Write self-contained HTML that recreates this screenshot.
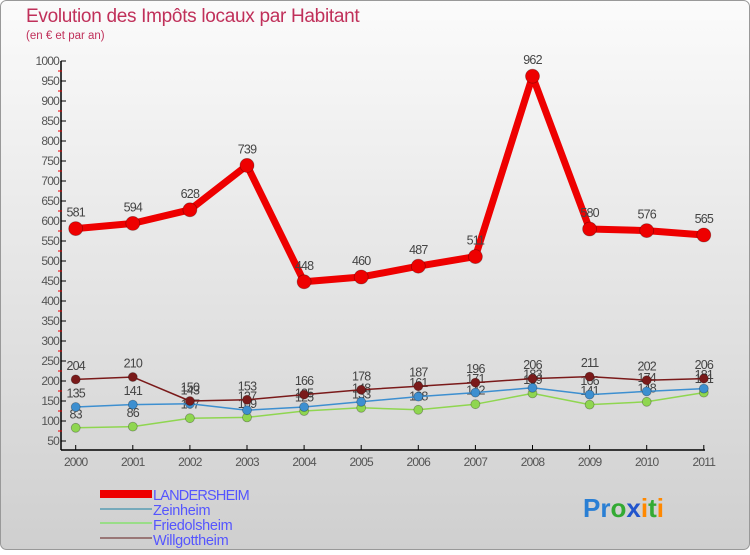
<!DOCTYPE html>
<html><head><meta charset="utf-8"><style>
html,body{margin:0;padding:0}
body{width:750px;height:550px;overflow:hidden;font-family:"Liberation Sans",sans-serif}
svg{font-family:"Liberation Sans",sans-serif}
</style></head><body>
<svg width="750" height="550" xmlns="http://www.w3.org/2000/svg">
<defs><linearGradient id="bg" x1="0" y1="0" x2="0" y2="1"><stop offset="0" stop-color="#fbfbfb"/><stop offset="1" stop-color="#cfcfcf"/></linearGradient></defs>
<rect x="0.5" y="0.5" width="749" height="549" rx="6" fill="url(#bg)" stroke="#999"/>
<text x="26" y="22" font-size="19" fill="#c0305a" letter-spacing="-0.3">Evolution des Impôts locaux par Habitant</text>
<text x="26" y="39" font-size="11.5" fill="#c0305a">(en € et par an)</text>
<g id="axes"></g><g id="series"></g>
<g>
<rect x="100" y="490" width="52" height="8" fill="#e00"/>
<text x="153" y="500" font-size="14.5" fill="#55f" letter-spacing="-0.8">LANDERSHEIM</text>
<rect x="100" y="508" width="52" height="2" fill="#7ab"/>
<text x="153" y="515" font-size="14.5" fill="#55f" letter-spacing="-0.3">Zeinheim</text>
<rect x="100" y="522" width="52" height="2" fill="#9d8"/>
<text x="153" y="530" font-size="14.5" fill="#55f" letter-spacing="-0.3">Friedolsheim</text>
<rect x="100" y="537" width="52" height="2" fill="#977"/>
<text x="153" y="545" font-size="14.5" fill="#55f" letter-spacing="-0.3">Willgottheim</text>
</g>
<g font-size="26" font-weight="bold">
<text x="583" y="517"><tspan fill="#2a7fd4">Pr</tspan><tspan fill="#3a3">o</tspan><tspan fill="#2255cc">x</tspan><tspan fill="#f80">i</tspan><tspan fill="#3a3">t</tspan><tspan fill="#f80">i</tspan></text>
</g>
</svg>
<script>
const years=[2000,2001,2002,2003,2004,2005,2006,2007,2008,2009,2010,2011];
const landersheim=[581,594,628,739,448,460,487,511,962,580,576,565];
const zeinheim=[135,141,143,127,135,148,161,171,183,166,174,181];
const friedolsheim=[83,86,107,109,125,133,128,142,169,141,148,171];
const willgottheim=[204,210,150,153,166,178,187,196,206,211,202,206];
const yTicks=[50,100,150,200,250,300,350,400,450,500,550,600,650,700,750,800,850,900,950,1000];
const NS='http://www.w3.org/2000/svg';
const xs=i=>75.7+i*57.1;
const ys=v=>61+(1000-v)*0.4;
function mk(t,a,p){const e=document.createElementNS(NS,t);for(const k in a)e.setAttribute(k,a[k]);p.appendChild(e);return e;}
const ax=document.getElementById('axes');
let yl=mk('line',{x1:61,y1:61,x2:61,y2:450,stroke:'#000','stroke-width':1.5},ax);


let xl=mk('line',{x1:61,y1:450,x2:705,y2:450,stroke:'#000','stroke-width':1.5},ax);


yTicks.forEach(v=>{
  mk('line',{x1:61,y1:ys(v),x2:66,y2:ys(v),stroke:'#000'},ax);
  if(v<1000)mk('line',{x1:58,y1:ys(v+25),x2:62,y2:ys(v+25),stroke:'#e00'},ax);
  const t=mk('text',{x:59,y:ys(v)+4,'font-size':12,fill:'#555','text-anchor':'end','letter-spacing':'-0.8'},ax);
  
  
  t.textContent=v;
});
years.forEach((y,i)=>{
  mk('line',{x1:xs(i),y1:445,x2:xs(i),y2:450,stroke:'#000'},ax);
  const t=mk('text',{x:xs(i),y:466,'font-size':12,fill:'#555','text-anchor':'middle','letter-spacing':'-0.8'},ax);
  
  
  t.textContent=y;
});
const sg=document.getElementById('series');
function draw(name,vals,color,w,r){
  const g=mk('g',{},sg);
  
  
  mk('polyline',{points:vals.map((v,i)=>xs(i)+','+ys(v)).join(' '),fill:'none',stroke:color,'stroke-width':w,'stroke-linejoin':'round'},g);
  vals.forEach((v,i)=>{
    const c=mk('circle',{cx:xs(i),cy:ys(v),r:r,fill:color,stroke:'rgba(0,0,0,0.3)','stroke-width':0.8},g);
    
    
    const t=mk('text',{x:xs(i),y:ys(v)-(r+5),'font-size':12.5,fill:'#444','text-anchor':'middle','letter-spacing':'-0.8'},g);
    
    
    t.textContent=v;
  });
}
draw('friedolsheim',friedolsheim,'#8fd650',1.5,4.5);
draw('zeinheim',zeinheim,'#3d8fd0',1.5,4.5);
draw('willgottheim',willgottheim,'#7a1a1a',1.5,4.5);
draw('landersheim',landersheim,'#ee0000',7,7);
</script>
</body></html>
